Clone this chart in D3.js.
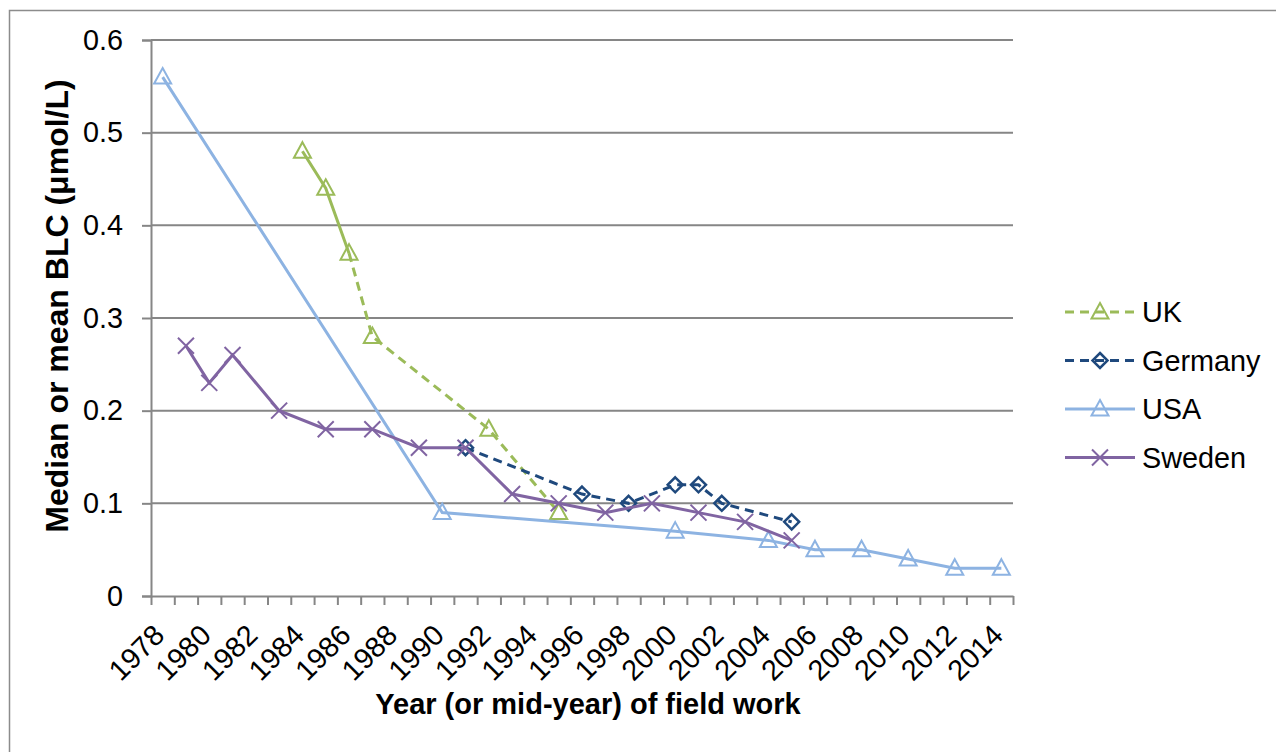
<!DOCTYPE html>
<html>
<head>
<meta charset="utf-8">
<script src="https://cdn.jsdelivr.net/npm/d3@7"></script>
<style>
  body { margin: 0; background: #fff; }
  svg { display: block; font-family: "Liberation Sans", Arial, sans-serif; }
</style>
</head>
<body>
<svg id="chart" width="1276" height="752"></svg>
<script>
// chart data
const yearTicks = [1978, 1980, 1982, 1984, 1986, 1988, 1990, 1992, 1994, 1996, 1998,
                   2000, 2002, 2004, 2006, 2008, 2010, 2012, 2014];
const yTicks = [0, 0.1, 0.2, 0.3, 0.4, 0.5, 0.6];

const ukYears = [1984, 1985, 1986, 1987, 1992, 1995];
const ukValues = [0.48, 0.44, 0.37, 0.28, 0.18, 0.09];

const germanyYears = [1991, 1996, 1998, 2000, 2001, 2002, 2005];
const germanyValues = [0.16, 0.11, 0.10, 0.12, 0.12, 0.10, 0.08];

const usaYears = [1978, 1990, 2000, 2004, 2006, 2008, 2010, 2012, 2014];
const usaValues = [0.56, 0.09, 0.07, 0.06, 0.05, 0.05, 0.04, 0.03, 0.03];

const swedenYears = [1979, 1980, 1981, 1983, 1985, 1987, 1989, 1991, 1993, 1995,
                     1997, 1999, 2001, 2003, 2005];
const swedenValues = [0.27, 0.23, 0.26, 0.20, 0.18, 0.18, 0.16, 0.16, 0.11, 0.10,
                      0.09, 0.10, 0.09, 0.08, 0.06];

const seriesNames = ["UK", "Germany", "USA", "Sweden"];

function zip(xs, ys) { return xs.map((d, i) => ({ year: d, value: ys[i] })); }

const series = [
    { name: "UK", data: zip(ukYears, ukValues), color: "#9bbb59", marker: "triangle", dash: "9,6", solidUntil: 2 },
    { name: "Germany", data: zip(germanyYears, germanyValues), color: "#1f497d", marker: "diamond", dash: "9,6", solidUntil: 0 },
    { name: "USA", data: zip(usaYears, usaValues), color: "#8db3e2", marker: "triangle", dash: null },
    { name: "Sweden", data: zip(swedenYears, swedenValues), color: "#8064a2", marker: "cross", dash: null }
];

const fontSize = "28.8px";
const svg = d3.select("#chart");

// outer frame
svg.append("rect")
    .attr("x", 9.5).attr("y", 10.5)
    .attr("width", 1300).attr("height", 800)
    .attr("fill", "none")
    .attr("stroke", "#8c8c8c")
    .attr("stroke-width", 1.5);

const plotLeft = 151, plotRight = 1013, plotTop = 40, plotBottom = 596;

// each year is a category, points sit in the middle of it
let x = d3.scaleLinear().domain([1978, 2015]).range([plotLeft, plotRight]);
let y = d3.scaleLinear().domain([0, 0.6]).range([plotBottom, plotTop]);
const px = d => x(d.year + 0.5);

// gridlines
svg.append("g")
    .selectAll("line")
    .data(yTicks.slice(1))
    .enter()
    .append("line")
      .attr("x1", plotLeft).attr("x2", plotRight)
      .attr("y1", d => y(d)).attr("y2", d => y(d))
      .attr("stroke", "#868686")
      .attr("stroke-width", 2);

// y axis
let yAxis = svg.append("g")
    .attr("transform", "translate(" + plotLeft + ",0)")
    .call(d3.axisLeft(y).tickValues(yTicks).tickFormat(d => d === 0 ? "0" : d3.format(".1f")(d))
        .tickSize(9).tickPadding(19));
yAxis.select(".domain").attr("stroke", "#868686").attr("stroke-width", 2);
yAxis.selectAll(".tick line").attr("stroke", "#868686").attr("stroke-width", 2);
yAxis.selectAll("text")
    .attr("fill", "#000")
    .style("font-size", fontSize)
    .style("font-family", "Liberation Sans, Arial, sans-serif");

// x axis: a tick at each year boundary
let xAxis = svg.append("g")
    .attr("transform", "translate(0," + plotBottom + ")")
    .call(d3.axisBottom(x).tickValues(d3.range(1978, 2016)).tickFormat("").tickSize(9).tickSizeOuter(0));
xAxis.select(".domain").attr("stroke", "#868686").attr("stroke-width", 2);
xAxis.selectAll(".tick line").attr("stroke", "#868686").attr("stroke-width", 2);

// rotated year labels
svg.append("g")
    .selectAll("text")
    .data(yearTicks)
    .enter()
    .append("text")
      .attr("transform", d => "translate(" + (x(d + 0.5) + 3.5) + "," + (plotBottom + 41) + ")rotate(-45)")
      .attr("text-anchor", "end")
      .style("font-size", fontSize)
      .text(d => d);

// series lines
const line = d3.line().x(px).y(d => y(d.value));

function drawMarker(g, type, color) {
    if (type === "triangle") {
        g.append("path")
            .attr("d", "M0,-9L8.5,6.5L-8.5,6.5Z")
            .attr("fill", "none")
            .attr("stroke", color)
            .attr("stroke-width", 2);
    } else if (type === "diamond") {
        g.append("path")
            .attr("d", "M0,-7.5L7.5,0L0,7.5L-7.5,0Z")
            .attr("fill", "none")
            .attr("stroke", color)
            .attr("stroke-width", 2.5);
    } else {
        g.append("path")
            .attr("d", "M-8,-8L8,8M-8,8L8,-8")
            .attr("fill", "none")
            .attr("stroke", color)
            .attr("stroke-width", 2);
    }
}

series.forEach(s => {
    let g = svg.append("g");
    if (s.dash === null) {
        g.append("path")
            .attr("d", line(s.data))
            .attr("fill", "none")
            .attr("stroke", s.color)
            .attr("stroke-width", 3);
    } else {
        if (s.solidUntil > 0) {
            g.append("path")
                .attr("d", line(s.data.slice(0, s.solidUntil + 1)))
                .attr("fill", "none")
                .attr("stroke", s.color)
                .attr("stroke-width", 3);
        }
        g.append("path")
            .attr("d", line(s.data.slice(s.solidUntil)))
            .attr("fill", "none")
            .attr("stroke", s.color)
            .attr("stroke-width", 3)
            .attr("stroke-dasharray", s.dash);
    }
    s.data.forEach(d => {
        let m = g.append("g").attr("transform", "translate(" + px(d) + "," + y(d.value) + ")");
        drawMarker(m, s.marker, s.color);
    });
});

// legend
let legend = svg.append("g");
series.forEach((s, i) => {
    let ly = 312 + i * 48.5;
    let row = legend.append("g");
    row.append("line")
        .attr("x1", 1065).attr("x2", 1135)
        .attr("y1", ly).attr("y2", ly)
        .attr("stroke", s.color)
        .attr("stroke-width", 3)
        .attr("stroke-dasharray", s.dash);
    let m = row.append("g").attr("transform", "translate(1100," + ly + ")");
    drawMarker(m, s.marker, s.color);
    row.append("text")
        .attr("x", 1142)
        .attr("y", ly + 10)
        .style("font-size", fontSize)
        .text(seriesNames[i]);
});

// x-axis title
svg.append("text")
    .attr("x", (plotLeft + plotRight) / 2 + 6)
    .attr("y", 714)
    .attr("text-anchor", "middle")
    .style("font-size", "29px")
    .style("font-weight", "bold")
    .text("Year (or mid-year) of field work");

// y-axis title
svg.append("text")
    .attr("transform", "translate(68,306)rotate(-90)")
    .attr("text-anchor", "middle")
    .style("font-size", "32px")
    .style("font-weight", "bold")
    .text("Median or mean BLC (μmol/L)");
</script>
</body>
</html>
